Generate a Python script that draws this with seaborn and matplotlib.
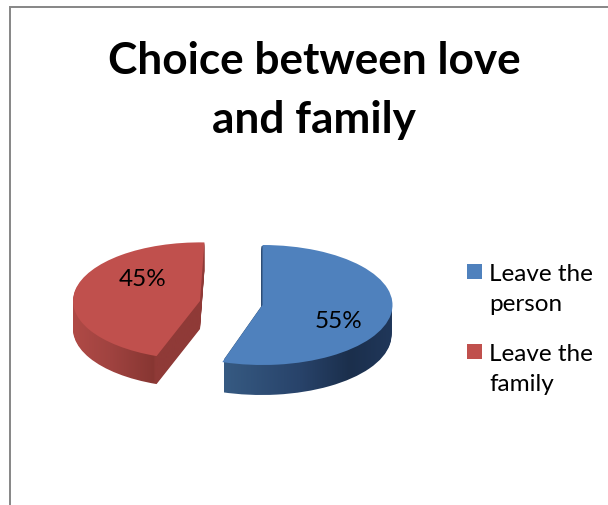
import numpy as np
import matplotlib
matplotlib.use("Agg")
import matplotlib.pyplot as plt
from matplotlib.colors import LinearSegmentedColormap
from matplotlib.legend_handler import HandlerPatch
from matplotlib.patches import Patch, Rectangle
import seaborn as sns

# Survey results
categories = ["Leave the person", "Leave the family"]
legend_labels = ["Leave the\nperson", "Leave the\nfamily"]
shares = [55, 45]
title = "Choice between love\nand family"

sns.set_theme(style="white")
plt.rcParams["font.family"] = ["Lato", "DejaVu Sans"]
top_colors = sns.color_palette(["#4F81BD", "#C0504D"])

W, H = 608, 505
fig = plt.figure(figsize=(W / 100, H / 100), dpi=100, facecolor="white")

# Chart frame, open at the right and bottom edges of the figure
fig.add_artist(Rectangle((9.5 / W, -0.1), 1.2, 1.1 - 6.5 / H, transform=fig.transFigure,
                         facecolor="none", edgecolor="#868686", linewidth=1.4))

# Pixel-based x; y stretched so a circular pie is drawn as a flattened disc
SQUASH = 130 / 60
ax = fig.add_axes([0, 0, 1, 1])
ax.patch.set_alpha(0)


def to_y(py):
    return (H - py) * SQUASH


def wedge_for(i, cx, py, radius, start):
    """One slice of the pie at the given centre; the other slice stays invisible."""
    wedges, _ = ax.pie(shares, startangle=start, counterclock=False, radius=radius,
                       center=(cx, to_y(py)), frame=True)
    wedges[1 - i].set_visible(False)
    return wedges[i]


slices = [
    {"cx": 262.5, "py": 305, "side_cx": 261.5, "radius": 130, "start": 90, "depth": 30,
     "stops": [(224, "#365A82"), (300, "#28436A"), (350, "#1B2F4C"), (392, "#20375A")]},
    {"cx": 200.0, "py": 301, "side_cx": 200.0, "radius": 127, "start": 88, "depth": 28,
     "stops": [(73, "#B04A46"), (110, "#A04340"), (154, "#873632"), (155, "#8F3A37"), (205, "#8F3A37")]},
]

for i, s in enumerate(slices):
    lo, hi = s["stops"][0][0], s["stops"][-1][0]
    cmap = LinearSegmentedColormap.from_list(
        f"side{i}", [((x - lo) / (hi - lo), c) for x, c in s["stops"]])
    ramp = np.linspace(0, 1, 256)[None, :]
    # Side wall: stacked gradient layers clipped to the slice outline, bottom first
    for d in range(s["depth"], 0, -1):
        w = wedge_for(i, s["side_cx"], s["py"] + d, s["radius"], s["start"])
        w.set_facecolor("none")
        w.set_edgecolor("none")
        w.set_zorder(1)
        im = ax.imshow(ramp, cmap=cmap, aspect="auto", zorder=2 + (s["depth"] - d) * 0.01,
                       extent=(lo, hi, 0, H * SQUASH), interpolation="bilinear")
        im.set_clip_path(w)
    # Top face
    top = wedge_for(i, s["cx"], s["py"], s["radius"], s["start"])
    top.set_facecolor(top_colors[i])
    top.set_edgecolor("none")
    top.set_zorder(5)

ax.set_aspect("auto")
ax.set_xlim(0, W)
ax.set_ylim(0, H * SQUASH)
ax.set_xticks([])
ax.set_yticks([])
for sp in ax.spines.values():
    sp.set_visible(False)

# Percentage labels
for share, (lx, ly) in zip(shares, [(339, 322), (143, 279)]):
    ax.text(lx, to_y(ly), f"{share}%", ha="center", va="center", fontsize=17.5,
            color="black", zorder=6)

# Title
fig.text(314 / W, 1 - 90.5 / H, title, ha="center", va="center", fontsize=31.8,
         fontweight="bold", color="black", linespacing=1.58)


# Legend marker: a small square level with the first line of its label
def square_marker(legend, orig_handle, xdescent, ydescent, width, height, fontsize):
    return Rectangle((-xdescent, 13.4), 10.8, 10.8)


handles = [Patch(facecolor=c, edgecolor="none") for c in top_colors]
leg = fig.legend(handles, legend_labels, loc="upper left",
                 bbox_to_anchor=(467 / W, 1 - 264 / H), frameon=False,
                 fontsize=17.5, handlelength=0.617, handleheight=0.7,
                 handletextpad=0.29, labelspacing=1.17, borderpad=0, borderaxespad=0,
                 handler_map={Patch: HandlerPatch(patch_func=square_marker)})
for t in leg.get_texts():
    t.set_linespacing(1.54)
    t.set_color("black")

fig.savefig("out.png", dpi=100, facecolor="white")
